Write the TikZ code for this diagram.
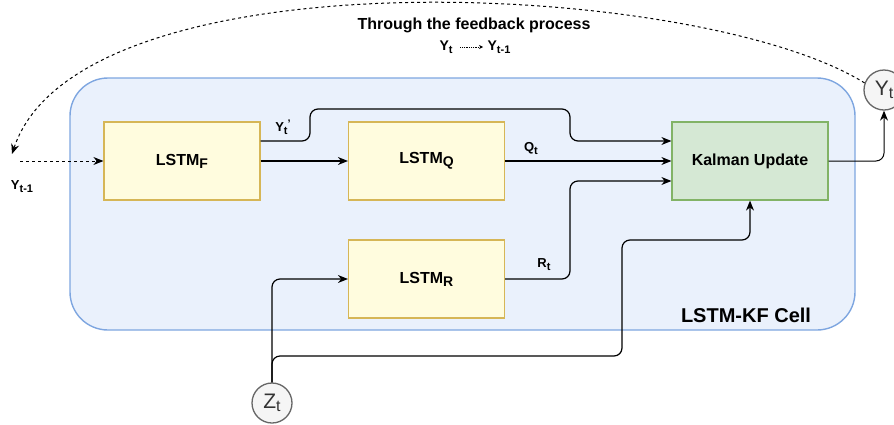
\documentclass[tikz,border=0pt]{standalone}
\usepackage{fontspec}
\setmainfont{Liberation Sans}
\usetikzlibrary{arrows.meta}
\usetikzlibrary{positioning}
\definecolor{blue1}{RGB}{234, 241, 252}
\definecolor{blue2}{RGB}{126, 166, 224}
\definecolor{yellow1}{RGB}{255, 252, 222}
\definecolor{yellow2}{RGB}{214, 182, 86}
\definecolor{green1}{RGB}{213, 232, 212}
\definecolor{green2}{RGB}{130, 179, 102}
\definecolor{grey1}{RGB}{245, 245, 245}
\definecolor{grey2}{RGB}{102, 102, 102}
\newcommand{\lo}[2][12]{\raisebox{-3pt}{\fontsize{#1}{#1}\selectfont #2}}
\newcommand{\fs}[1]{\fontsize{#1}{#1}\selectfont}

\begin{document}
\begin{tikzpicture}[x=1pt, y=-1pt, line width=1.2pt,
  box/.style={rectangle, minimum width=156pt, minimum height=78pt, font=\fs{16}\bfseries},
  lstm/.style={box, draw=yellow2, fill=yellow1},
  var/.style={circle, draw=grey2, fill=grey1, line width=1.3pt, minimum size=40pt, inner sep=0pt, text=black!80, font=\fs{21}},
  lbl/.style={font=\fs{13}\bfseries, inner sep=1pt},
  conn/.style={-{Stealth[length=10pt,width=8pt]}, rounded corners=8pt},
  fb/.style={dash pattern=on 3pt off 3pt, line width=1pt, -{Stealth[length=10pt,width=8pt]}}]
\useasboundingbox (0,0) rectangle (894,424);
 % the cell
 \node[draw=blue2, fill=blue1, line width=1.4pt, rounded corners=38pt, minimum width=785pt, minimum height=252pt] (cell) at (462.5,204) {};
 \node[font=\fs{20}\bfseries] (celltitle) at (746,315) {LSTM-KF Cell};

 \node[lstm] (lstmf) at (182,161) {LSTM\lo[14]{F}};
 \node[lstm] (lstmq) at (426.5,161) {LSTM\lo[14]{Q}};
 \node[lstm] (lstmr) at (426.5,279) {LSTM\lo[14]{R}};
 \node[box, draw=green2, fill=green1] (kalman) at (750,161) {Kalman Update};

 \node[var] (yt) at (884,90) {Y\lo[16]{t}};
 \node[var] (zt) at (272,403) {Z\lo[16]{t}};

 \coordinate (fbend) at (12,154);
 \coordinate (fbstart) at (20,161);
 \node[lbl] (yprev) at (22,187) {Y\lo[11]{t-1}};

 % feedback text
 \node[font=\fs{16}\bfseries] (fbtext) at (474,25) {Through the feedback process};
 \node[lbl, font=\fs{14}\bfseries] (fbold) at (446,47) {Y\lo[11]{t}};
 \node[lbl, font=\fs{14}\bfseries] (fbnew) at (499,47) {Y\lo[11]{t-1}};
 \draw[densely dotted, line width=0.8pt, shorten <=6pt, shorten >=3pt, -{Stealth[length=4pt,width=4pt]}] (fbold) -- (fbnew);

 % connectors
 \draw[conn] ([yshift=20pt]lstmf.east) -| (310,109) -| (570,141) -- ([yshift=20pt]kalman.west);
 \draw[conn] (lstmf) -- (lstmq);
 \draw[conn] (lstmq) -- (kalman);
 \draw[conn] (lstmr.east) -| (570,181) -- ([yshift=-20pt]kalman.west);
 \draw[conn] (zt.north) |- (lstmr.west);
 \draw[conn] (zt.north) |- (622,356) -- (622,240) -| (kalman.south);
 \draw[conn, line width=1pt] (kalman.east) -| (yt.south);
 \node[lbl] (ytp) at (283,127) {Y\lo[11]{t}\raisebox{4pt}{\fs{11}'}};
 \node[lbl] (qt) at (531,149) {Q\lo[11]{t}};
 \node[lbl] (rt) at (544,265) {R\lo[11]{t}};

 % feedback loop
 \draw[fb] (yt.160) .. controls (700,-20) and (80,-50) .. (fbend);
 \draw[fb] (fbstart) -- (lstmf);
\end{tikzpicture}
\end{document}
